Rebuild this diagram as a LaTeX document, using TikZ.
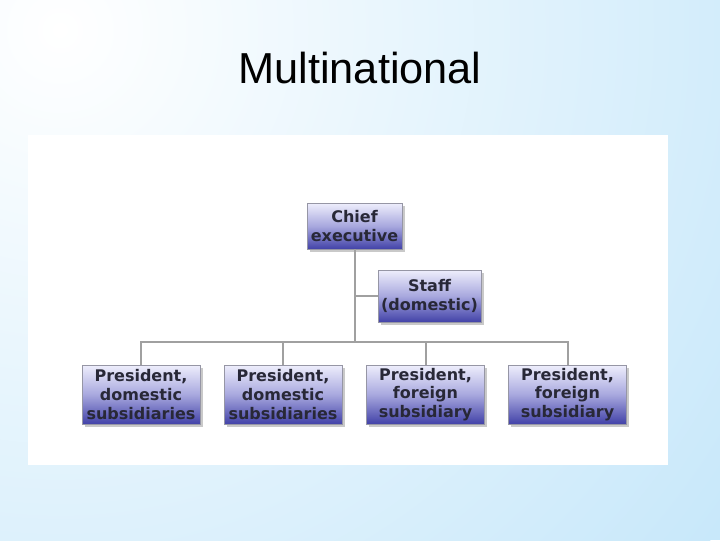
\documentclass[tikz,border=0pt]{standalone}
\usepackage{fontspec}
\setmainfont{Liberation Sans}
\newfontfamily\boxfont{DejaVu Sans}
\usepackage{xcolor}
\usepackage{tikz}
\usetikzlibrary{calc}
\usetikzlibrary{positioning}
\usetikzlibrary{shadows}
\definecolor{bgblue}{RGB}{200,232,250}
\definecolor{boxtop}{RGB}{238,238,252}
\definecolor{boxmid}{RGB}{168,168,222}
\definecolor{boxbot}{RGB}{66,66,168}
\definecolor{boxline}{RGB}{150,150,165}
\definecolor{connline}{RGB}{160,160,160}
\definecolor{boxtext}{RGB}{40,40,55}
\tikzstyle{orgbox} = [draw = boxline, line width = 0.6pt, top color = boxtop, bottom color = boxbot, middle color = boxmid, align = center, inner sep = 0, font = \boxfont\bfseries\fontsize{12}{14}\selectfont, text = boxtext, drop shadow = {shadow xshift = 2pt, shadow yshift = -2pt, opacity = 0.35, fill = black!60}]
\tikzstyle{conn} = [-, draw = connline, line width = 1.5pt]

\begin{document}
\begin{tikzpicture}[x = 0.75pt, y = -0.75pt]
\useasboundingbox (0, 0) rectangle (720, 540);
\begin{scope}
\clip (0, 0) rectangle (720, 540);
\fill [bgblue] (0, 0) rectangle (720, 540);
\shade [inner color = white, outer color = bgblue] (60, 30) circle (620pt);
\end{scope}
\fill [white] (28, 135) rectangle (668, 465);
\node [draw=none, inner sep = 0, anchor = base, font = \fontsize{32.5}{36}\selectfont] (title) at (360, 83) {Multinational};

\node [orgbox, minimum width = 95 * 0.75pt, minimum height = 46 * 0.75pt]  (chief) at (354.5, 226) {Chief\\executive};
\node [orgbox, minimum width = 103 * 0.75pt, minimum height = 52 * 0.75pt] (staff) at (429.5, 296) {Staff\\(domestic)};
\node [orgbox, minimum width = 118 * 0.75pt, minimum height = 59 * 0.75pt] (pres1) at (141, 394.5) {President,\\domestic\\subsidiaries};
\node [orgbox, minimum width = 118 * 0.75pt, minimum height = 59 * 0.75pt] (pres2) at (283, 394.5) {President,\\domestic\\subsidiaries};
\node [orgbox, minimum width = 118 * 0.75pt, minimum height = 59 * 0.75pt] (pres3) at (425.5, 394.5) {President,\\foreign\\subsidiary};
\node [orgbox, minimum width = 118 * 0.75pt, minimum height = 59 * 0.75pt] (pres4) at (567.5, 394.5) {President,\\foreign\\subsidiary};

\coordinate (bar) at (354.5, 342);
\draw [conn] (chief.south) -- (bar);
\draw [conn] (staff.west) -- (staff.west -| chief.south);
\draw [conn] (pres1.north) |- (bar) -| (pres4.north);
\draw [conn] (pres2.north) -- (pres2.north |- bar);
\draw [conn] (pres3.north) -- (pres3.north |- bar);
\end{tikzpicture}
\end{document}
